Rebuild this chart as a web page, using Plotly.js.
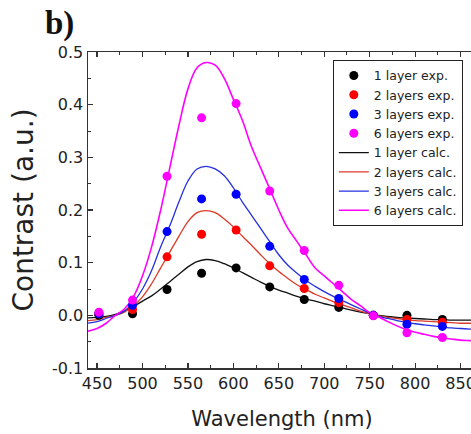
<!DOCTYPE html>
<html>
<head>
<meta charset="utf-8">
<script src="https://cdn.plot.ly/plotly-3.0.1.min.js"></script>
<style>
  html, body { margin: 0; padding: 0; background: #fff; overflow: hidden; width: 471px; height: 434px; }
  #chart { width: 480px; height: 434px; }
</style>
</head>
<body>
<div id="chart"></div>
<script>
// ---- experimental data (wavelength in nm, contrast in a.u.) ----
const expWavelength = [452, 489, 527, 565, 603, 640, 678, 716, 754, 791, 830];
const exp1 = [0.000, 0.003, 0.049, 0.080, 0.090, 0.054, 0.030, 0.015, 0.000, 0.000, -0.008];
const exp2 = [0.003, 0.011, 0.111, 0.154, 0.162, 0.094, 0.051, 0.024, 0.000, -0.008, -0.013];
const exp3 = [0.003, 0.019, 0.159, 0.221, 0.230, 0.131, 0.068, 0.032, 0.000, -0.017, -0.021];
const exp6 = [0.006, 0.029, 0.264, 0.375, 0.402, 0.236, 0.123, 0.057, -0.001, -0.033, -0.042];

// ---- calculated curves ----
const calcWavelength = [440, 450, 460, 470, 480, 490, 500, 510, 520, 530, 540, 550, 560, 570, 580, 590, 600, 610, 620, 630, 640, 650, 660, 670, 680, 690, 700, 710, 720, 730, 740, 750, 760, 770, 780, 790, 800, 810, 820, 830, 840, 850, 860, 870];
const calc1 = [-0.005, -0.004, -0.002, 0.002, 0.008, 0.017, 0.027, 0.037, 0.050, 0.064, 0.078, 0.092, 0.102, 0.106, 0.104, 0.098, 0.090, 0.081, 0.072, 0.063, 0.055, 0.048, 0.042, 0.036, 0.031, 0.027, 0.022, 0.018, 0.014, 0.010, 0.006, 0.003, 0.000, -0.002, -0.004, -0.005, -0.006, -0.007, -0.008, -0.008, -0.009, -0.009, -0.009, -0.009];
const calc2 = [-0.010, -0.008, -0.004, 0.000, 0.006, 0.018, 0.035, 0.060, 0.090, 0.120, 0.150, 0.178, 0.195, 0.199, 0.195, 0.183, 0.168, 0.150, 0.133, 0.115, 0.098, 0.083, 0.070, 0.058, 0.049, 0.040, 0.033, 0.026, 0.020, 0.014, 0.008, 0.003, -0.001, -0.004, -0.006, -0.008, -0.010, -0.011, -0.012, -0.013, -0.014, -0.015, -0.015, -0.015];
const calc3 = [-0.015, -0.012, -0.006, 0.000, 0.008, 0.025, 0.050, 0.085, 0.130, 0.170, 0.215, 0.255, 0.278, 0.283, 0.278, 0.265, 0.242, 0.215, 0.190, 0.165, 0.140, 0.115, 0.095, 0.080, 0.066, 0.055, 0.045, 0.036, 0.028, 0.020, 0.012, 0.004, -0.002, -0.006, -0.010, -0.013, -0.016, -0.018, -0.020, -0.022, -0.024, -0.025, -0.026, -0.027];
const calc6 = [-0.030, -0.025, -0.015, 0.000, 0.012, 0.035, 0.075, 0.130, 0.200, 0.280, 0.360, 0.430, 0.470, 0.480, 0.475, 0.450, 0.410, 0.370, 0.320, 0.280, 0.240, 0.200, 0.165, 0.140, 0.115, 0.090, 0.075, 0.060, 0.045, 0.030, 0.018, 0.005, -0.003, -0.012, -0.020, -0.027, -0.032, -0.036, -0.040, -0.043, -0.045, -0.047, -0.048, -0.049];

// ---- labels ----
const expNames = ['1 layer exp.', '2 layers exp.', '3 layers exp.', '6 layers exp.'];
const calcNames = ['1 layer calc.', '2 layers calc.', '3 layers calc.', '6 layers calc.'];
const xTickVals = [450, 500, 550, 600, 650, 700, 750, 800, 850];
const yTickVals = [-0.1, 0.0, 0.1, 0.2, 0.3, 0.4, 0.5];
const yTickText = ['-0.1', '0.0', '0.1', '0.2', '0.3', '0.4', '0.5'];

const pointColors = ['#000000', '#ff0000', '#0000ff', '#ff00ff'];
const lineColors = ['#111111', '#dc3a28', '#2430e0', '#ff00ff'];
const expSeries = [exp1, exp2, exp3, exp6];
const calcSeries = [calc1, calc2, calc3, calc6];

const traces = [];
calcSeries.forEach((ys, i) => {
  traces.push({
    x: calcWavelength, y: ys, type: 'scatter', mode: 'lines',
    name: calcNames[i], legendrank: 5 + i,
    line: { color: lineColors[i], width: i === 3 ? 1.6 : 1.3, shape: 'spline', smoothing: 1 },
    hoverinfo: 'skip'
  });
});
expSeries.forEach((ys, i) => {
  traces.push({
    x: expWavelength, y: ys, type: 'scatter', mode: 'markers',
    name: expNames[i], legendrank: 1 + i,
    marker: { color: pointColors[i], size: 9 }
  });
});

const axisFont = { family: 'DejaVu Sans', size: 16, color: '#222' };

const layout = {
  width: 480, height: 434,
  margin: { l: 88, r: 4, t: 52, b: 66 },
  paper_bgcolor: '#fff', plot_bgcolor: '#fff',
  showlegend: true,
  legend: {
    x: 0.631, y: 0.975, xanchor: 'left', yanchor: 'top',
    bgcolor: '#fff', bordercolor: '#222', borderwidth: 1,
    font: { family: 'DejaVu Sans', size: 12.5, color: '#222' },
    tracegroupgap: 0, itemwidth: 30
  },
  xaxis: {
    range: [440, 867], showgrid: false, zeroline: false,
    showline: true, linecolor: '#333', linewidth: 1.5, mirror: 'ticks',
    ticks: 'inside', ticklen: 5, tickwidth: 1.2, tickcolor: '#333',
    tickmode: 'array', tickvals: xTickVals,
    minor: { dtick: 25, tick0: 450, ticks: 'inside', ticklen: 3, tickwidth: 1, tickcolor: '#333', showgrid: false },
    tickfont: axisFont,
    title: { text: 'Wavelength (nm)', font: { family: 'DejaVu Sans', size: 21, color: '#222' }, standoff: 19 }
  },
  yaxis: {
    range: [-0.1, 0.5], showgrid: false, zeroline: false,
    showline: true, linecolor: '#333', linewidth: 1.5, mirror: 'ticks',
    ticks: 'inside', ticklen: 5, tickwidth: 1.2, tickcolor: '#333',
    tickmode: 'array', tickvals: yTickVals, ticktext: yTickText,
    minor: { dtick: 0.05, tick0: 0, ticks: 'inside', ticklen: 3, tickwidth: 1, tickcolor: '#333', showgrid: false },
    tickfont: axisFont,
    title: { text: 'Contrast (a.u.)', font: { family: 'DejaVu Sans', size: 28, color: '#222' }, standoff: 10 }
  },
  annotations: [{
    text: '<b>b)</b>', xref: 'paper', yref: 'paper',
    x: -0.116, y: 1.09, xanchor: 'left', yanchor: 'middle', showarrow: false,
    font: { family: 'Liberation Serif', size: 33, color: '#111' }
  }]
};

Plotly.newPlot('chart', traces, layout, { displayModeBar: false, staticPlot: true });
</script>
</body>
</html>
